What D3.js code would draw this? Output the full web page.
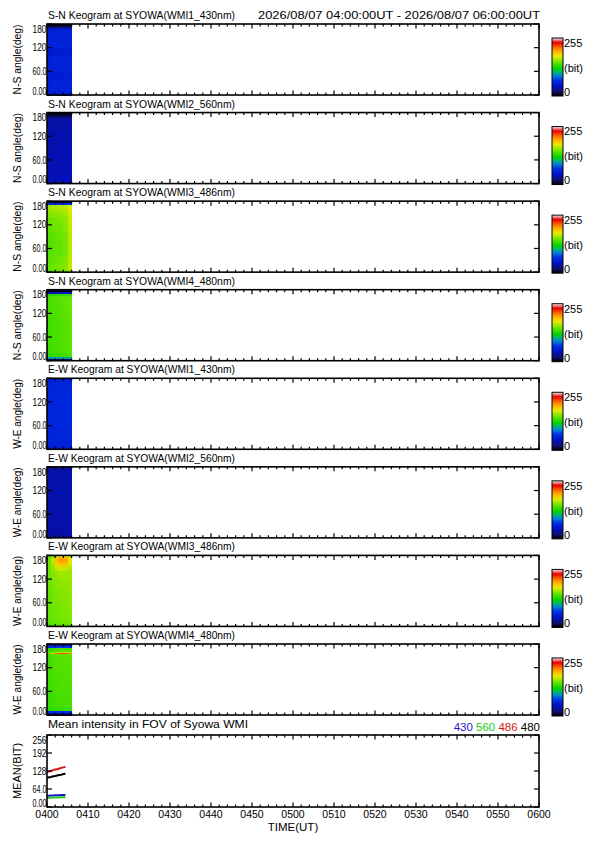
<!DOCTYPE html>
<html><head><meta charset="utf-8">
<script src="https://cdn.jsdelivr.net/npm/d3@7"></script>
<style>
html,body{margin:0;padding:0;background:#fff;}
svg text{font-family:"Liberation Sans",Arial,sans-serif;fill:#000;}
</style></head>
<body><svg id="c" width="595" height="842"></svg>
<script>
// ---------------- DATA ----------------
const panelTitles = [
  "S-N Keogram at SYOWA(WMI1_430nm)",
  "S-N Keogram at SYOWA(WMI2_560nm)",
  "S-N Keogram at SYOWA(WMI3_486nm)",
  "S-N Keogram at SYOWA(WMI4_480nm)",
  "E-W Keogram at SYOWA(WMI1_430nm)",
  "E-W Keogram at SYOWA(WMI2_560nm)",
  "E-W Keogram at SYOWA(WMI3_486nm)",
  "E-W Keogram at SYOWA(WMI4_480nm)"
];
const panelYLabels = ["N-S angle(deg)","N-S angle(deg)","N-S angle(deg)","N-S angle(deg)",
                      "W-E angle(deg)","W-E angle(deg)","W-E angle(deg)","W-E angle(deg)"];
const timeRangeText = "2026/08/07 04:00:00UT - 2026/08/07 06:00:00UT";
const angleTicks = [0, 60, 120, 180];
const angleTickLabels = ["0.00", "60.0", "120", "180"];
const timeTicks = [0,10,20,30,40,50,60,70,80,90,100,110,120];       // minutes after 04:00
const timeTickLabels = ["0400","0410","0420","0430","0440","0450","0500","0510","0520","0530","0540","0550","0600"];
const colorbarLabels = ["255", "(bit)", "0"];

// keogram columns: start minute after 04:00, each 1 minute wide
const keoTimes = [0, 1, 2, 3, 4, 5];
// angle bin edges, top to bottom (rows of the matrices below)
const angleEdges = [180,175,170,165,160,157,155,150,140,120,100,80,60,40,20,10,5,0];

const keoSN430 = [
 [6,6,6,6,6,6],[16,16,17,17,17,16],[50,52,52,53,53,52],[56,57,58,58,59,58],
 [57,58,59,59,60,59],[57,58,59,59,60,59],[58,59,60,60,60,59],[58,59,60,60,61,60],
 [57,58,59,59,60,59],[52,53,54,54,55,54],[57,58,59,59,60,59],[56,57,58,58,59,58],
 [52,53,54,54,55,54],[57,58,59,59,60,59],[57,58,59,59,60,59],[56,57,58,58,58,57],
 [54,55,56,56,56,55]];
const keoSN560 = [
 [6,6,6,6,6,6],[12,12,13,13,13,12],[29,30,30,31,31,30],[33,34,34,35,35,34],
 [34,35,35,36,36,35],[34,35,35,36,36,35],[35,35,36,36,37,36],[35,36,36,37,37,36],
 [36,36,37,37,38,37],[36,37,37,38,38,37],[37,37,38,38,39,38],[37,38,38,39,39,38],
 [38,38,39,39,40,39],[39,39,40,40,41,40],[40,40,41,41,42,41],[39,39,40,40,41,40],
 [37,37,38,38,39,38]];
const keoSN486 = [
 [8,8,8,8,8,8],[60,62,64,64,66,70],[158,160,162,162,165,172],[160,162,163,164,166,174],
 [158,160,161,162,165,172],[157,159,160,161,164,172],[156,158,159,160,163,171],[153,155,156,157,160,170],
 [148,150,152,153,156,168],[146,148,150,150,154,166],[142,145,147,148,152,165],[141,144,146,147,151,165],
 [142,145,146,147,151,164],[144,147,149,150,154,166],[146,149,151,152,156,168],[146,149,150,151,155,167],
 [140,143,145,146,150,162]];
const keoSN480 = [
 [6,6,6,6,6,6],[40,42,42,43,43,44],[128,130,131,132,133,136],[138,140,141,142,143,146],
 [140,142,143,144,145,148],[140,142,143,144,145,148],[140,142,143,144,145,148],[140,142,143,144,146,149],
 [139,141,142,143,145,148],[138,140,141,142,144,147],[137,139,140,141,143,146],[137,139,140,141,143,146],
 [137,139,140,141,143,146],[136,138,139,140,142,145],[132,134,135,136,138,141],[95,97,98,99,100,102],
 [15,15,16,16,16,17]];
const keoEW430 = [
 [52,53,53,54,54,53],[56,57,57,58,58,57],[58,59,59,60,60,59],[59,60,60,61,61,60],
 [59,60,61,61,62,61],[59,60,61,61,62,61],[59,60,61,61,62,61],[60,61,61,62,62,61],
 [60,61,62,62,63,62],[60,61,62,62,63,62],[60,61,62,62,63,62],[60,61,61,62,62,61],
 [59,60,61,61,62,61],[59,60,60,61,61,60],[58,59,59,60,60,59],[56,57,57,58,58,57],
 [52,53,53,54,54,53]];
const keoEW560 = [
 [30,30,31,31,31,30],[33,34,34,35,35,34],[35,36,36,37,37,36],[36,36,37,37,38,37],
 [36,36,37,37,38,37],[36,36,37,37,38,37],[36,36,37,37,38,37],[36,37,37,38,38,37],
 [36,37,37,38,38,37],[36,37,37,38,38,37],[36,37,37,38,38,37],[36,37,37,38,38,37],
 [36,36,37,37,38,37],[35,36,36,37,37,36],[35,36,36,37,37,36],[34,34,35,35,36,35],
 [32,32,33,33,33,32]];
const keoEW486 = [
 [140,150,170,178,176,160],[148,162,188,196,194,172],[150,166,194,202,200,176],[150,165,190,198,196,174],
 [150,163,186,194,192,172],[150,162,184,192,190,170],[150,160,178,186,184,168],[150,157,166,170,168,162],
 [150,154,158,160,160,160],[149,152,155,156,157,158],[148,151,153,154,155,157],[147,150,152,153,154,156],
 [147,150,151,152,153,156],[146,149,150,151,152,155],[145,148,149,150,151,154],[143,146,147,148,149,152],
 [138,141,142,143,144,146]];
const keoEW480 = [
 [40,42,44,45,45,44],[62,66,68,70,70,68],[132,136,138,140,140,140],[136,140,142,143,143,143],
 [138,150,160,165,165,160],[150,190,215,222,222,205],[138,142,144,145,145,145],[138,141,143,144,144,144],
 [137,140,142,143,143,143],[137,139,141,142,142,142],[136,139,140,141,141,141],[136,138,140,141,141,141],
 [135,138,139,140,140,140],[134,137,138,139,139,139],[130,133,134,135,135,135],[62,64,66,67,67,66],
 [38,40,41,42,42,41]];
const keograms = [keoSN430, keoSN560, keoSN486, keoSN480, keoEW430, keoEW560, keoEW486, keoEW480];

// mean intensity panel
const meanTitle = "Mean intensity in FOV of Syowa WMI";
const meanTimes = [0,0.5,1,1.5,2,2.5,3,3.5,4,4.5];
const mean430 = [40,40,41,41,42,42,42,43,43,43];
const mean560 = [33,33,34,34,34,34,35,35,35,35];
const mean486 = [125,126,128,131,133,134,137,139,141,143];
const mean480 = [104,106,107,109,110,112,114,115,117,118];
const meanSeriesNames = ["430","560","486","480"];
const meanSeriesColors = ["#1818c8","#22c822","#d81818","#000000"];
const meanTicks = [0,64,128,192,256];
const meanTickLabels = ["0.00","64.0","128","192","256"];

// colour table (IDL rainbow + white style)
const ctStops = [0,20,45,70,90,105,120,150,175,195,215,235,248,255];
const ctColors = ["#000000","#10106e","#0010c8","#0032e6","#0082d2","#00b478","#00d200",
                  "#6ee600","#e6eb00","#ffb400","#ff6400","#e60000","#f09696","#ffffff"];

// ---------------- DRAW ----------------
const svg = d3.select("#c");
const L = 47, R = 539;
const panelStep = 88.57, firstTop = 24, panelH = 71;
const x = d3.scaleLinear().domain([0,120]).range([L,R]);
const color = d3.scaleLinear().domain(ctStops).range(ctColors).interpolate(d3.interpolateRgb).clamp(true);

// gradient for colorbar
const defs = svg.append("defs");
const grad = defs.append("linearGradient").attr("id","cbar").attr("x1",0).attr("y1",1).attr("x2",0).attr("y2",0);
d3.range(0,256,5).concat([255]).forEach(v=>{
  grad.append("stop").attr("offset", v/255).attr("stop-color", color(v));
});

function drawFrame(g, y, yTicks, yTickLabels, top, h){
  const minor = d3.range(0,121,2);
  minor.forEach(t=>{
    const major = t % 10 === 0;
    const len = major ? 4.5 : 2.5;
    g.append("line").attr("x1",x(t)).attr("x2",x(t)).attr("y1",top).attr("y2",top+len)
      .attr("stroke","#000").attr("stroke-width",1.2);
    g.append("line").attr("x1",x(t)).attr("x2",x(t)).attr("y1",top+h).attr("y2",top+h-len)
      .attr("stroke","#000").attr("stroke-width",1.2);
  });
  yTicks.forEach((v,i)=>{
    g.append("line").attr("x1",L).attr("x2",L+5).attr("y1",y(v)).attr("y2",y(v))
      .attr("stroke","#000").attr("stroke-width",1.2);
    g.append("line").attr("x1",R).attr("x2",R-5).attr("y1",y(v)).attr("y2",y(v))
      .attr("stroke","#000").attr("stroke-width",1.2);
    let dy = 0;
    if (i === 0) dy = -4;
    if (i === yTicks.length-1) dy = 5;
    g.append("text").attr("x",L-0.5).attr("y",y(v)+dy).attr("dy","0.35em")
      .attr("text-anchor","end").attr("font-size",10.5).attr("textLength",14)
      .attr("lengthAdjust","spacingAndGlyphs").text(yTickLabels[i]);
  });
  g.append("rect").attr("x",L).attr("y",top).attr("width",R-L).attr("height",h)
    .attr("fill","none").attr("stroke","#000").attr("stroke-width",1.6);
}

keograms.forEach((m,p)=>{
  const top = firstTop + p*panelStep;
  const g = svg.append("g");
  const y = d3.scaleLinear().domain([0,180]).range([top+panelH, top]);
  m.forEach((row,ri)=>{
    const a1 = angleEdges[ri], a0 = angleEdges[ri+1];
    row.forEach((v,ci)=>{
      const t0 = keoTimes[ci], t1 = t0 + 1;
      g.append("rect").attr("x",x(t0)).attr("y",y(a1))
        .attr("width",x(t1)-x(t0)+0.6).attr("height",y(a0)-y(a1)+0.6)
        .attr("shape-rendering","crispEdges")
        .attr("fill",color(v));
    });
  });
  drawFrame(g, y, angleTicks, angleTickLabels, top, panelH);
  g.append("text").attr("x",L+1).attr("y",top-5).attr("font-size",11.5)
    .attr("textLength",187).attr("lengthAdjust","spacingAndGlyphs").text(panelTitles[p]);
  if (p === 0) g.append("text").attr("x",258).attr("y",top-5)
      .attr("font-size",11.5).attr("textLength",282).attr("lengthAdjust","spacingAndGlyphs").text(timeRangeText);
  g.append("text").attr("transform",`translate(21,${top+panelH/2}) rotate(-90)`)
    .attr("text-anchor","middle").attr("font-size",11).attr("textLength",70)
    .attr("lengthAdjust","spacingAndGlyphs").text(panelYLabels[p]);
  const cbTop = top+14, cbBot = top+panelH+1;
  g.append("rect").attr("x",552).attr("y",cbTop).attr("width",11).attr("height",cbBot-cbTop)
    .attr("fill","url(#cbar)").attr("stroke","#000").attr("stroke-width",1);
  g.append("text").attr("x",564).attr("y",cbTop+5).attr("dy","0.35em").attr("font-size",11).text(colorbarLabels[0]);
  g.append("text").attr("x",564).attr("y",(cbTop+cbBot)/2+1).attr("dy","0.35em").attr("font-size",11).text(colorbarLabels[1]);
  g.append("text").attr("x",564).attr("y",cbBot-4).attr("dy","0.35em").attr("font-size",11).text(colorbarLabels[2]);
});

// mean panel
(function(){
  const top = 735, h = 72;
  const g = svg.append("g");
  const y = d3.scaleLinear().domain([0,256]).range([top+h, top]);
  const line = d3.line().x((d,i)=>x(meanTimes[i])).y(d=>y(d));
  [mean430, mean560, mean486, mean480].forEach((s,i)=>{
    g.append("path").attr("d",line(s)).attr("fill","none")
      .attr("stroke",meanSeriesColors[i]).attr("stroke-width",2);
  });
  drawFrame(g, y, meanTicks, meanTickLabels, top, h);
  g.append("text").attr("x",L+1).attr("y",top-7).attr("font-size",11.5)
    .attr("textLength",200).attr("lengthAdjust","spacingAndGlyphs").text(meanTitle);
  const leg = g.append("text").attr("x",R+1).attr("y",top-4).attr("text-anchor","end").attr("font-size",11.5);
  meanSeriesNames.forEach((n,i)=>{
    leg.append("tspan").attr("fill",meanSeriesColors[i]).text((i?" ":"")+n);
  });
  g.append("text").attr("transform",`translate(21,${top+h/2}) rotate(-90)`)
    .attr("text-anchor","middle").attr("font-size",11).text("MEAN(BIT)");
  timeTicks.forEach((t,i)=>{
    g.append("text").attr("x",x(t)).attr("y",top+h+11).attr("text-anchor","middle")
      .attr("font-size",10.5).text(timeTickLabels[i]);
  });
  g.append("text").attr("x",(L+R)/2).attr("y",top+h+24).attr("text-anchor","middle")
    .attr("font-size",11.5).text("TIME(UT)");
})();
</script></body></html>
